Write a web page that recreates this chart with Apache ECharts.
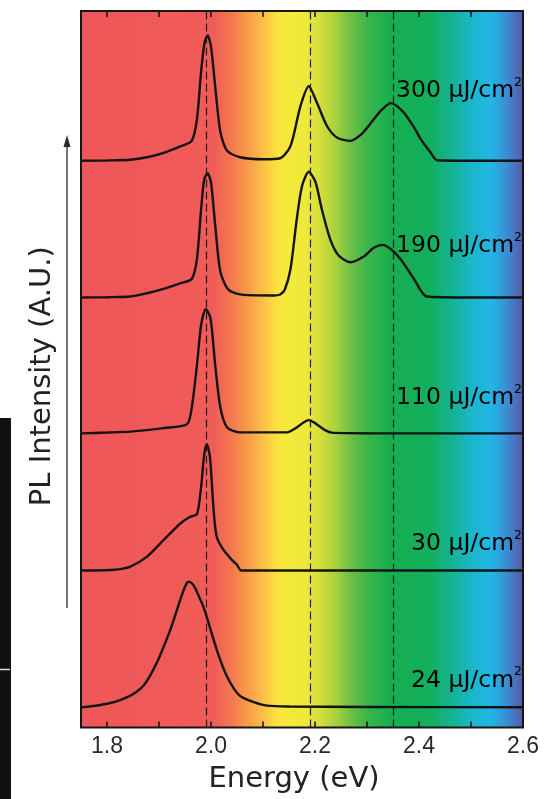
<!DOCTYPE html>
<html>
<head>
<meta charset="utf-8">
<script src="https://cdn.jsdelivr.net/npm/echarts@6/dist/echarts.min.js"></script>
<style>
html,body{margin:0;padding:0;background:#fff;}
#c{width:546px;height:799px;}
</style>
</head>
<body>
<div id="c"></div>
<script>
// ---- data (energy in eV, relative PL intensity above each trace's baseline) ----
const fluences = ['24', '30', '110', '190', '300'];
const offsets = [20.3, 158, 296, 432.7, 570.3];

const pl24 = [[1.75,0],[1.787,2.4],[1.815,5.5],[1.838,10],[1.855,15],[1.870,21.7],[1.883,32],[1.896,45],[1.909,61],[1.922,78.4],[1.932,94],[1.941,108.4],[1.949,120],[1.956,126.4],[1.963,125],[1.970,119.7],[1.978,110],[1.985,101.7],[1.993,89],[2.000,76.7],[2.015,51.7],[2.030,31.7],[2.045,18],[2.056,11.5],[2.081,5.5],[2.108,1.7],[2.15,0.8],[2.3,0.4],[2.6,0.1]];
const pl30 = [[1.75,0],[1.813,0.7],[1.845,4],[1.877,14],[1.909,30.7],[1.941,47.3],[1.960,54],[1.973,56.7],[1.981,84],[1.987,117],[1.992,127],[1.998,114],[2.005,61],[2.011,34],[2.024,20.7],[2.040,10.7],[2.050,5.7],[2.058,0],[2.2,0],[2.6,0]];
const pl110 = [[1.75,0],[1.80,0.8],[1.845,1.7],[1.909,5.3],[1.954,9.3],[1.963,26],[1.973,69],[1.981,109],[1.990,125],[1.999,116],[2.008,69],[2.018,26],[2.031,6],[2.056,1],[2.146,1],[2.165,6],[2.178,11],[2.188,13.3],[2.198,11],[2.207,7.7],[2.22,3],[2.235,0.5],[2.4,0],[2.6,0]];
const pl190 = [[1.75,0],[1.80,0.3],[1.845,1],[1.877,4.3],[1.909,8.6],[1.941,14.3],[1.963,18.6],[1.973,39],[1.981,89],[1.987,119],[1.9935,125],[2.000,116],[2.008,73],[2.018,26],[2.034,7.6],[2.063,2.6],[2.12,2],[2.133,3],[2.142,8],[2.153,29],[2.165,79],[2.175,112],[2.188,126.5],[2.201,116],[2.213,89],[2.229,59],[2.245,42.5],[2.268,35.5],[2.293,41],[2.313,50],[2.330,53],[2.345,49],[2.364,39],[2.39,19],[2.415,1],[2.5,0],[2.6,0]];
const pl300 = [[1.75,0],[1.80,0.3],[1.845,1],[1.877,3.5],[1.909,8],[1.941,14.5],[1.963,20],[1.973,42],[1.981,90],[1.988,120],[1.9935,126],[2.000,115],[2.008,75],[2.018,29],[2.031,10],[2.056,3.5],[2.10,1.5],[2.133,2.5],[2.153,15],[2.172,55],[2.188,75],[2.204,58],[2.223,35],[2.242,23.5],[2.268,20],[2.29,27],[2.306,37],[2.326,50],[2.346,58],[2.370,49],[2.39,34],[2.403,22],[2.422,8.5],[2.435,0.5],[2.5,0],[2.6,0]];
const spectra = [pl24, pl30, pl110, pl190, pl300];

const dashedEnergies = [1.994, 2.188, 2.349];
const xTickValues = [1.8, 1.9, 2.0, 2.1, 2.2, 2.3, 2.4, 2.5];
const xLabelValues = [1.8, 2.0, 2.2, 2.4, 2.6];
const xMin = 1.75, xMax = 2.6, yMin = 0, yMax = 721;

// spectrum background colour stops (energy -> colour)
const bgStops = [[1.75,'#ef5659'],[2.005,'#f05c58'],[2.04,'#f3784f'],[2.07,'#f89a4a'],[2.103,'#fbc245'],[2.125,'#fbe03f'],[2.15,'#f5ea3b'],[2.185,'#ece83a'],[2.210,'#d2df3b'],[2.239,'#a8d23e'],[2.268,'#6dc045'],[2.300,'#3cb54a'],[2.344,'#17ae4e'],[2.421,'#12af5e'],[2.460,'#15b290'],[2.498,'#1bb6c8'],[2.537,'#22b6e6'],[2.566,'#3a8fd3'],[2.6,'#5a55a5']];

// ---- chart ----
const chart = echarts.init(document.getElementById('c'), null, {renderer: 'canvas'});
const font = "'DejaVu Sans', sans-serif";
const tickFont = "'Liberation Sans', Arial, sans-serif";

const gradient = new echarts.graphic.LinearGradient(0, 0, 1, 0,
  bgStops.map(s => ({offset: (s[0] - xMin) / (xMax - xMin), color: s[1]})));

const series = spectra.map((sp, i) => ({
  type: 'line',
  name: fluences[i] + ' μJ/cm²',
  data: sp.map(p => [p[0], p[1] + offsets[i]]),
  showSymbol: false,
  smooth: 0.25,
  lineStyle: {color: '#141414', width: 2.4},
  z: 5,
  markLine: i === 0 ? {
    silent: true,
    symbol: ['none', 'none'],
    label: {show: false},
    lineStyle: {color: '#1e1e1e', width: 1.2, type: [8, 4]},
    data: dashedEnergies.map(e => ({xAxis: e}))
  } : undefined
}));

const labelY = [679, 542.5, 396.5, 244.5, 89.5];
const richLabel = {
  n: {fontFamily: font, fontSize: 23.5, color: '#1a1a1a', lineHeight: 27, verticalAlign: 'bottom'},
  s: {fontFamily: font, fontSize: 12.5, color: '#1a1a1a', verticalAlign: 'top', lineHeight: 27}
};

const graphics = [
  {type: 'rect', shape: {x: 0, y: 418, width: 11, height: 381}, style: {fill: '#111'}, z: 1},
  {type: 'line', shape: {x1: 0, y1: 669.5, x2: 10, y2: 669.5}, style: {stroke: '#dddddd', lineWidth: 1.5}, z: 2},
  {type: 'line', shape: {x1: 67, y1: 146, x2: 67, y2: 608}, style: {stroke: '#3a3a3a', lineWidth: 1.4}, z: 2},
  {type: 'polygon', shape: {points: [[67, 135], [63.5, 147], [70.5, 147]]}, style: {fill: '#2a2a2a'}, z: 2}
];
fluences.forEach((f, i) => {
  graphics.push({
    type: 'text', z: 10,
    style: {
      text: '{n|' + f + ' μJ/cm}{s|2}',
      x: 522, y: labelY[i],
      align: 'right', verticalAlign: 'middle',
      rich: richLabel
    }
  });
});

const option = {
  animation: false,
  backgroundColor: '#ffffff',
  grid: {left: 81, right: 23, top: 11, bottom: 67, show: true,
         backgroundColor: gradient, borderColor: '#161616', borderWidth: 2},
  xAxis: [{
    type: 'value', min: xMin, max: xMax, position: 'bottom',
    name: 'Energy (eV)', nameLocation: 'middle', nameGap: 52,
    nameTextStyle: {fontFamily: font, fontSize: 29, color: '#222', verticalAlign: 'middle', padding: [0, 16, 0, 0]},
    axisLine: {show: false},
    axisTick: {show: true, inside: true, length: 6, customValues: xTickValues, lineStyle: {color: '#1a1a1a', width: 1.6}},
    axisLabel: {show: true, customValues: xLabelValues, margin: 8, fontFamily: tickFont, fontSize: 23, color: '#2a2a2a',
                formatter: v => Number(v).toFixed(1)},
    splitLine: {show: false}
  }, {
    type: 'value', min: xMin, max: xMax, position: 'top',
    axisLine: {show: false},
    axisTick: {show: true, inside: true, length: 6, customValues: xTickValues, lineStyle: {color: '#1a1a1a', width: 1.6}},
    axisLabel: {show: false},
    splitLine: {show: false}
  }],
  yAxis: {
    type: 'value', min: yMin, max: yMax,
    name: 'PL Intensity (A.U.)', nameLocation: 'middle', nameGap: 39, nameRotate: 90,
    nameTextStyle: {fontFamily: font, fontSize: 29, color: '#222', verticalAlign: 'middle', padding: [0, 14, 0, 0]},
    axisLine: {show: false}, axisTick: {show: false}, axisLabel: {show: false}, splitLine: {show: false}
  },
  series: series,
  graphic: graphics
};
chart.setOption(option);
</script>
</body>
</html>
